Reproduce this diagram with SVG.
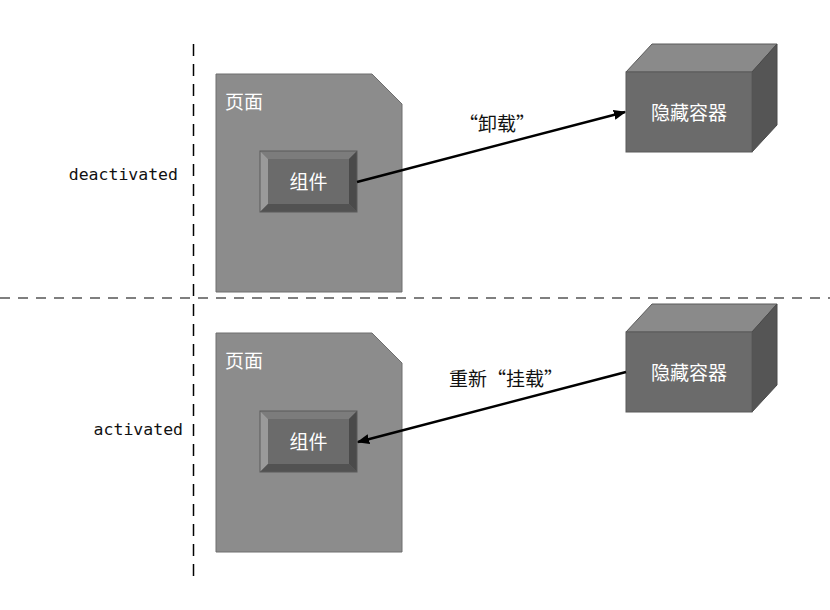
<svg xmlns="http://www.w3.org/2000/svg" width="830" height="610" viewBox="0 0 830 610">
<defs>
<style>
.page{fill:#8c8c8c;stroke:#6e6e6e;stroke-width:1}
.bface{fill:#6b6b6b}
.btop{fill:#7c7c7c}
.bleft{fill:#9a9a9a}
.bbot{fill:#525252}
.bright{fill:#4a4a4a}
.bout{fill:none;stroke:#5a5a5a;stroke-width:1}
.cfront{fill:#6b6b6b;stroke:#5a5a5a;stroke-width:1}
.ctop{fill:#8a8a8a;stroke:#5a5a5a;stroke-width:1}
.cright{fill:#555555;stroke:#4a4a4a;stroke-width:1}
.wt{font-family:"Noto Sans CJK SC","Liberation Sans",sans-serif;fill:#ffffff;font-size:19px}
.lbl{font-family:"Noto Sans CJK SC","Liberation Sans",sans-serif;fill:#111111;font-size:19px}
.mono{font-family:"DejaVu Sans Mono","Liberation Mono",monospace;fill:#111111;font-size:16.5px}
.conn{stroke:#000;stroke-width:2.5;fill:none;marker-end:url(#ah)}
</style>
<marker id="ah" viewBox="0 0 10 10" refX="9" refY="5" markerWidth="5" markerHeight="5" orient="auto" markerUnits="strokeWidth">
<path d="M0,1 L10,5 L0,9 Z" fill="#000"/>
</marker>
</defs>
<rect width="830" height="610" fill="#ffffff"/>
<g id="dividers">
<line x1="193.5" y1="44" x2="193.5" y2="584" stroke="#000" stroke-width="1.5" stroke-dasharray="12,8"/>
<line x1="0" y1="298" x2="830" y2="298" stroke="#555" stroke-width="1.5" stroke-dasharray="10,8"/>
</g>
<g id="state-labels">
<text class="mono" x="178" y="180" text-anchor="end">deactivated</text>
<text class="mono" x="183" y="435" text-anchor="end">activated</text>
</g>
<g id="page1">
<path class="page" d="M216,74 H372 L402,104 V292 H216 Z"/>
<text class="wt" x="225" y="109">页面</text>
</g>
<g id="comp1">
<rect class="bface" x="260" y="151" width="97" height="61"/>
<path class="btop" d="M260,151 H357 L349,159 H268 Z"/>
<path class="bleft" d="M260,151 L268,159 V204 L260,212 Z"/>
<path class="bbot" d="M260,212 L268,204 H349 L357,212 Z"/>
<path class="bright" d="M357,151 V212 L349,204 V159 Z"/>
<rect class="bout" x="260" y="151" width="97" height="61"/>
<text class="wt" x="308.5" y="189" text-anchor="middle">组件</text>
</g>
<g id="container1">
<path class="ctop" d="M626,72 L652,44 H777 L752,72 Z"/>
<path class="cright" d="M752,72 L777,44 V125 L752,152 Z"/>
<rect class="cfront" x="626" y="72" width="126" height="80"/>
<text class="wt" x="689" y="120" text-anchor="middle">隐藏容器</text>
</g>
<g id="page2">
<path class="page" d="M216,333 H372 L402,363 V552 H216 Z"/>
<text class="wt" x="225" y="368">页面</text>
</g>
<g id="comp2">
<rect class="bface" x="260" y="411" width="97" height="61"/>
<path class="btop" d="M260,411 H357 L349,419 H268 Z"/>
<path class="bleft" d="M260,411 L268,419 V464 L260,472 Z"/>
<path class="bbot" d="M260,472 L268,464 H349 L357,472 Z"/>
<path class="bright" d="M357,411 V472 L349,464 V419 Z"/>
<rect class="bout" x="260" y="411" width="97" height="61"/>
<text class="wt" x="308.5" y="449" text-anchor="middle">组件</text>
</g>
<g id="container2">
<path class="ctop" d="M626,332 L652,304 H777 L752,332 Z"/>
<path class="cright" d="M752,332 L777,304 V385 L752,412 Z"/>
<rect class="cfront" x="626" y="332" width="126" height="80"/>
<text class="wt" x="689" y="380" text-anchor="middle">隐藏容器</text>
</g>
<g id="connectors">
<line class="conn" x1="357" y1="182" x2="625" y2="112"/>
<line class="conn" x1="626" y1="372" x2="358" y2="442"/>
<text class="lbl" x="497" y="131" text-anchor="middle">“卸载”</text>
<text class="lbl" x="506" y="386" text-anchor="middle">重新“挂载”</text>
</g>
</svg>
